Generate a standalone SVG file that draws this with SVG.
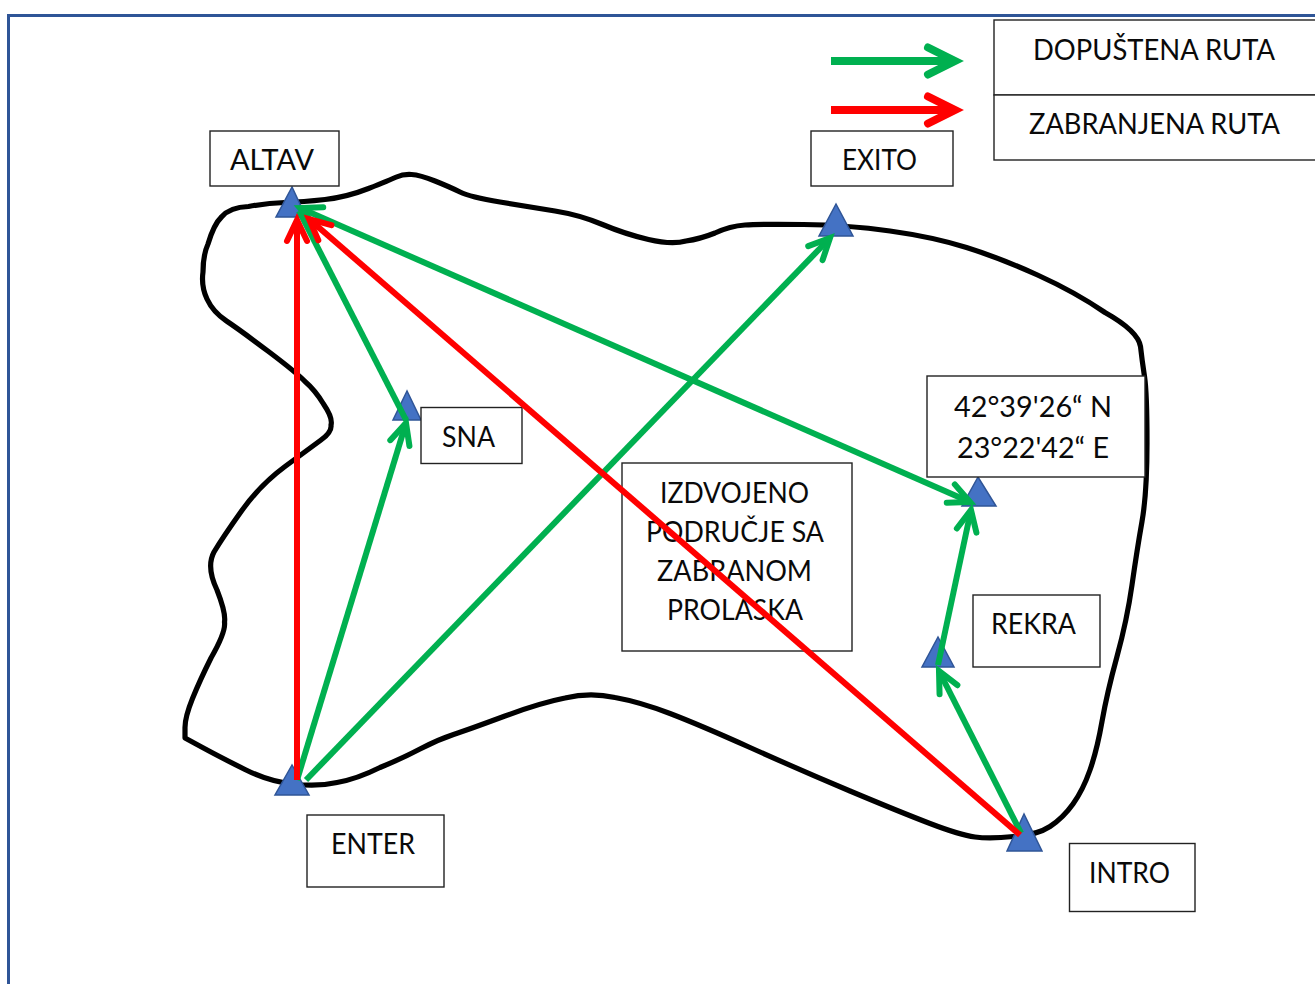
<svg xmlns="http://www.w3.org/2000/svg" width="1315" height="984" viewBox="0 0 1315 984">
<style>
.box{fill:#fff;stroke:#222;stroke-width:1.4}
.tri{fill:#4472c4;stroke:#2f5597;stroke-width:1.5}
text{font-family:"Lato","Liberation Sans",sans-serif;font-size:28.5px;fill:#0a0a0a}
.g{stroke:#00b050;fill:none}
.r{stroke:#ff0000;fill:none}
.a{stroke-width:6}
.l{stroke-width:8}
</style>
<defs>
<marker id="hg" markerUnits="userSpaceOnUse" markerWidth="40" markerHeight="40" viewBox="-32 -20 40 40" refX="0" refY="0" orient="auto-start-reverse"><path d="M-21,-10 L0,0 L-21,10" fill="none" stroke="#00b050" stroke-width="6" stroke-linecap="round"/></marker>
<marker id="hr" markerUnits="userSpaceOnUse" markerWidth="40" markerHeight="40" viewBox="-32 -20 40 40" refX="0" refY="0" orient="auto"><path d="M-21,-10 L0,0 L-21,10" fill="none" stroke="#ff0000" stroke-width="6" stroke-linecap="round"/></marker>
<marker id="lg" markerUnits="userSpaceOnUse" markerWidth="50" markerHeight="50" viewBox="-40 -25 50 50" refX="0" refY="0" orient="auto"><path d="M-27,-13.500 L0,0 L-27,13.500" fill="none" stroke="#00b050" stroke-width="8" stroke-linecap="round"/></marker>
<marker id="lr" markerUnits="userSpaceOnUse" markerWidth="50" markerHeight="50" viewBox="-40 -25 50 50" refX="0" refY="0" orient="auto"><path d="M-27,-13.500 L0,0 L-27,13.500" fill="none" stroke="#ff0000" stroke-width="8" stroke-linecap="round"/></marker>
</defs>
<rect x="0" y="0" width="1315" height="984" fill="#fff"/>
<path id="frame" d="M8.500,984 V15.500 H1315" fill="none" stroke="#2f5597" stroke-width="3"/>
<path id="outline" fill="none" stroke="#000" stroke-width="5.2" stroke-linejoin="round" d="M248.5,206.5 Q267,203 285,202.5 Q303,202 325,199.5 Q347,197 368.5,188.5 Q390,180 396.5,177 Q403,174 411.5,174.5 Q420,175 435,181 Q450,187 460,192 Q470,197 500,202 Q530,207 555,211 Q580,215 602.5,224.5 Q625,234 648.5,239.5 Q672,245 686,241 Q700,239 715,233 Q730,226 745,225 Q760,224 803.5,224.5 Q847,225 890,231 Q933,237 966.5,247.5 Q1000,258 1037.5,275 Q1075,292 1105,312.5 Q1138,331 1140.5,346.500 Q1142,360 1144.5,376.5 Q1147,393 1147,443 Q1147,493 1142,521.5 Q1137,550 1132,585 Q1127,620 1117,656.5 Q1107,693 1102,721.5 Q1097,750 1090,770 Q1083,790 1073,804 Q1063,818 1050,826.5 Q1037,835 1013.5,836.5 Q990,839 975,837 Q960,835 930,823.5 Q900,812 850,791 Q800,770 750,747.5 Q700,725 670,713.5 Q640,702 615,697.5 Q590,692 565,698 Q540,703 505,716 Q470,729 453.5,734.5 Q437,740 420,749 Q403,758 380,767.5 Q357,779 337,782.500 Q317,787 293.5,784 Q270,782 245,769.5 Q220,757 202.5,747.5 L185,738 L185,727.5 Q185,717 192.5,698.5 Q200,680 211,658 Q226,632 224.500,622 Q226,613 217,590 Q206,567 214,552 Q223,537 241.5,511 Q260,485 285,466.5 Q310,448 321,440 Q332,432 331,425 Q333,418 323.5,404 Q315,390 305,381.5 Q297,373 268.5,351.500 Q240,330 226.500,321 Q213,312 207,299 Q201,286 203,272 Q203,255 208,244 Q214,224 221.500,217 Q230,207 248.5,206.5 Z"/>
<g id="legend-allowed"><rect class="box" x="994" y="20" width="340" height="75"/><text x="1033" y="60" textLength="242" lengthAdjust="spacingAndGlyphs">DOPUŠTENA RUTA</text></g>
<g id="legend-forbidden"><rect class="box" x="994" y="95" width="340" height="65"/><text x="1029" y="134" textLength="251" lengthAdjust="spacingAndGlyphs">ZABRANJENA RUTA</text></g>
<g id="altav"><polygon class="tri" points="292,187 276,217 306,217"/><rect class="box" x="210" y="131" width="129" height="55"/><text x="230" y="170" textLength="84" lengthAdjust="spacingAndGlyphs">ALTAV</text></g>
<g id="exito"><polygon class="tri" points="836,204 819,236 853,236"/><rect class="box" x="811" y="131" width="142" height="55"/><text x="842" y="170" textLength="75" lengthAdjust="spacingAndGlyphs">EXITO</text></g>
<g id="sna"><polygon class="tri" points="407,391 393,420 421,420"/><rect class="box" x="421" y="407.500" width="101" height="56"/><text x="442" y="447" textLength="53" lengthAdjust="spacingAndGlyphs">SNA</text></g>
<g id="coord"><polygon class="tri" points="978,477 962,506 996,506"/><rect class="box" x="927" y="376" width="218" height="101"/><text x="954" y="417" textLength="158" lengthAdjust="spacingAndGlyphs">42°39'26“ N</text><text x="957" y="458" textLength="152" lengthAdjust="spacingAndGlyphs">23°22'42“ E</text></g>
<g id="rekra"><polygon class="tri" points="938,637 922,667 954,667"/><rect class="box" x="973" y="595" width="127" height="72"/><text x="991" y="634" textLength="85" lengthAdjust="spacingAndGlyphs">REKRA</text></g>
<g id="intro"><polygon class="tri" points="1024,814 1007,851 1042,851"/><rect class="box" x="1069.500" y="843.500" width="125.500" height="68"/><text x="1089" y="883" textLength="81" lengthAdjust="spacingAndGlyphs">INTRO</text></g>
<g id="enter"><polygon class="tri" points="292,765 275,795 309,795"/><rect class="box" x="307" y="815" width="137" height="72"/><text x="331" y="854" textLength="84" lengthAdjust="spacingAndGlyphs">ENTER</text></g>
<g id="zone"><rect class="box" x="622" y="463" width="230" height="188"/><text x="660" y="503" textLength="149" lengthAdjust="spacingAndGlyphs">IZDVOJENO</text><text x="646" y="542" textLength="178" lengthAdjust="spacingAndGlyphs">PODRUČJE SA</text><text x="657" y="581" textLength="155" lengthAdjust="spacingAndGlyphs">ZABRANOM</text><text x="667" y="620" textLength="136" lengthAdjust="spacingAndGlyphs">PROLASKA</text></g>
<g id="connectors">
<line class="g l" x1="831" y1="61" x2="955" y2="61" marker-end="url(#lg)"/>
<line class="r l" x1="831" y1="110" x2="955" y2="110" marker-end="url(#lr)"/>
<line class="g a" x1="297" y1="780" x2="406" y2="423" marker-end="url(#hg)"/>
<line class="g a" x1="306" y1="780" x2="830" y2="238" marker-end="url(#hg)"/>
<line class="g a" x1="406" y1="420" x2="299" y2="211"/>
<line class="g a" x1="970" y1="502" x2="300" y2="208" marker-start="url(#hg)" marker-end="url(#hg)"/>
<line class="g a" x1="938" y1="665" x2="971" y2="510" marker-end="url(#hg)"/>
<line class="g a" x1="1021" y1="833" x2="939" y2="671" marker-end="url(#hg)"/>
<line class="r a" x1="297" y1="780" x2="297" y2="220" marker-end="url(#hr)"/>
<line class="r a" x1="1020" y1="835" x2="309" y2="219" marker-end="url(#hr)"/>
</g>
</svg>
